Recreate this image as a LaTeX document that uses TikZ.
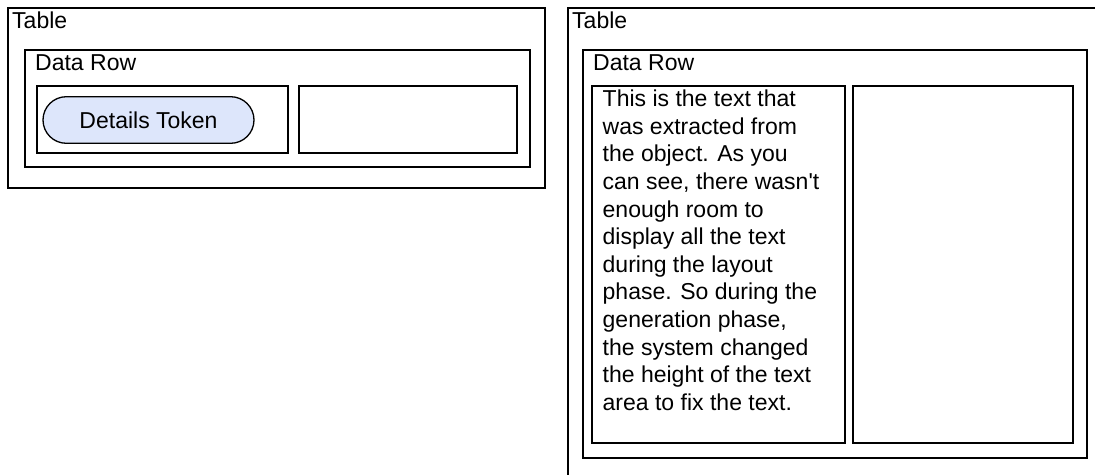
\documentclass[tikz,border=0pt]{standalone}
\usepackage{fontspec}
\setmainfont{Liberation Sans}
\newfontfamily\hv{Liberation Sans}
\usetikzlibrary{shapes.misc}
\definecolor{tokenfill}{RGB}{221,230,251}
\begin{document}
\begin{tikzpicture}[x=1pt,y=-1pt,
  frame/.style={draw=black,line width=1.3pt},
  lbl/.style={anchor=base west,inner sep=0pt,font=\hv\fontsize{23}{27.6}\selectfont},
  token/.style={draw=black,line width=1.3pt,fill=tokenfill,rounded rectangle,
    minimum width=211pt,minimum height=46.6pt,inner sep=0pt,font=\hv\fontsize{23}{27.6}\selectfont},
]
\useasboundingbox (0,0) rectangle (1095,474);
\clip (0,0) rectangle (1095,474);
% left table
\draw[frame] (8,8) rectangle (545,188);
\node[lbl] (t1) at (12,28) {Table};
\draw[frame] (25,50) rectangle (530,167);
\node[lbl] (d1) at (35,70) {Data Row};
\draw[frame] (37,86) rectangle (288,153);
\draw[frame] (299,86) rectangle (517,153);
\node[token] (tok) at (148.5,120) {Details Token};
% right table
\draw[frame] (568,8) rectangle (1110,490);
\node[lbl] (t2) at (572,28) {Table};
\draw[frame] (583,50) rectangle (1087,458);
\node[lbl] (d2) at (593,70) {Data Row};
\draw[frame] (592,86) rectangle (845,443);
\draw[frame] (853,86) rectangle (1073,443);
\node[anchor=base west,inner sep=0pt,font=\hv\fontsize{23}{27.6}\selectfont] (txt) at (602.5,106.7) {\begin{tabular}[t]{@{}l@{}}This is the text that\\was extracted from\\the object. As you\\can see, there wasn't\\enough room to\\display all the text\\during the layout\\phase. So during the\\generation phase,\\the system changed\\the height of the text\\area to fix the text.\end{tabular}};
\end{tikzpicture}
\end{document}
